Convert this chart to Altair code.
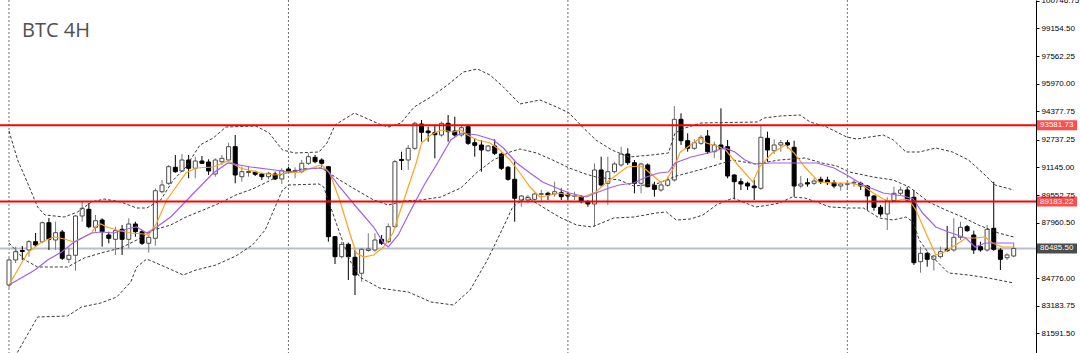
import altair as alt
import pandas as pd

TITLE = "BTC 4H"

OPEN = [84377, 85817, 86364, 86393, 86871, 86871, 87965, 86969, 87430, 85857,
        86088, 88351, 88737, 87701, 88121, 87257, 87009, 87585, 87009, 87891,
        87447, 86779, 87067, 89751, 90235, 91157, 90943, 91577, 91099, 91519,
        91462, 90771, 91479, 91577, 92343, 90615, 90857, 90886, 90771, 90615,
        90771, 90483, 91059, 90915, 90903, 91387, 91732, 91577, 91191, 87159,
        86007, 86721, 85973, 85051, 86364, 86393, 87009, 86871, 87735, 91606,
        91577, 92251, 93651, 93247, 93149, 93017, 93691, 93247, 93017, 93495,
        92573, 92441, 92113, 92383, 91923, 91157, 90465, 89273, 89273, 89313,
        89601, 89659, 89619, 89693, 89601, 89486, 89463, 89175, 89043, 91001,
        90235, 90903, 91289, 91923, 91422, 90235, 91289, 90120, 89849, 90120,
        90425, 93921, 92689, 92251, 92539, 92959, 92055, 92441, 92343, 90713,
        90327, 90235, 90079, 89947, 92827, 92113, 92441, 92573, 92309, 90079,
        90269, 90235, 90465, 90425, 90270, 90079, 90177, 90253, 90235, 90079,
        89503, 88853, 88467, 89233, 89659, 89849, 89429, 85719, 86203, 85857,
        86007, 86433, 86393, 87125, 87735, 87257, 86583, 86393, 87643, 86393,
        85949, 86047]
HIGH = [85932, 86583, 86623, 86969, 87372, 88023, 88236, 88023, 87545, 86508,
        88409, 89175, 89100, 88409, 88219, 87447, 87735, 87833, 88219, 88023,
        87545, 87257, 89947, 90425, 91289, 91865, 91923, 91865, 91767, 91807,
        91617, 91675, 91865, 92573, 93017, 91191, 91191, 90961, 90845, 90903,
        90903, 91099, 91191, 91157, 91577, 91963, 91865, 91675, 91231, 87199,
        86871, 86813, 86393, 86491, 87355, 87355, 87257, 87931, 91577, 92055,
        92441, 93783, 93881, 93495, 93593, 93783, 94169, 94071, 93593, 93593,
        92827, 92729, 92441, 92769, 92000, 91231, 91479, 89561, 89561, 89693,
        89849, 89751, 90327, 89947, 89751, 89751, 89561, 89273, 91387, 91767,
        91767, 91479, 92343, 92251, 91577, 91422, 91387, 90327, 90327, 90615,
        94687, 94267, 93115, 92769, 93017, 93305, 92631, 94555, 92729, 90753,
        90523, 90327, 90425, 93593, 93207, 92769, 92729, 92729, 92689, 90655,
        90523, 90523, 90615, 90615, 90425, 90270, 90327, 90425, 90327, 90137,
        89561, 88985, 89429, 90039, 90039, 90039, 89849, 86583, 86295, 86105,
        86583, 87775, 88219, 88023, 87833, 87505, 86871, 87833, 90327, 86491,
        86203, 86813]
LOW = [84204, 85644, 85817, 86007, 86583, 86779, 86393, 86393, 85817, 85644,
       85201, 88023, 87643, 87447, 86583, 86779, 86105, 86105, 86491, 87159,
       86681, 86237, 86641, 89659, 90137, 90845, 90903, 90523, 90523, 91347,
       90713, 90615, 91289, 91479, 90235, 90327, 90615, 90655, 90425, 90465,
       90425, 90195, 90811, 90523, 90811, 91289, 91387, 91191, 86871, 85587,
       85915, 84665, 83801, 84567, 86295, 86295, 86681, 86779, 87643, 91001,
       91001, 92153, 92631, 92631, 91675, 92919, 92631, 92919, 92919, 92441,
       91767, 90903, 92055, 91865, 91001, 90385, 88023, 88887, 89083, 89233,
       89233, 89273, 89463, 89273, 89273, 89273, 89083, 88887, 87735, 90039,
       88985, 90811, 91191, 91289, 89659, 89659, 90005, 89463, 89751, 90039,
       90327, 92441, 92055, 92153, 92441, 91923, 91675, 91577, 90523, 89313,
       89849, 89849, 89273, 89849, 91479, 91923, 92055, 92251, 89463, 89947,
       90039, 90137, 90195, 90137, 89947, 89809, 89849, 90039, 89849, 88697,
       88657, 88311, 87545, 89175, 89561, 89175, 85529, 85085, 85431, 85201,
       85915, 86295, 86295, 86969, 87447, 86163, 86295, 86295, 86353, 85241,
       85817, 85973]
CLOSE = [85817, 86295, 86307, 86871, 86681, 87965, 87009, 87389, 85915, 86088,
         88351, 88795, 87735, 88081, 87447, 87067, 87505, 87009, 87891, 87447,
         86779, 87125, 89809, 90137, 91191, 90903, 91577, 91099, 91519, 91387,
         90943, 91577, 91675, 92343, 90713, 90903, 90915, 90753, 90615, 90811,
         90483, 90961, 90943, 90973, 91387, 91767, 91479, 91387, 87159, 86007,
         86721, 86007, 84953, 86433, 86451, 86969, 86779, 87735, 91479, 91548,
         92251, 93691, 93173, 93149, 93034, 93691, 93207, 93017, 93437, 92539,
         92424, 92153, 92383, 91963, 91099, 90465, 89371, 89503, 89429, 89619,
         89636, 89561, 89751, 89463, 89503, 89521, 89175, 89043, 91001, 90137,
         90903, 91347, 91923, 91422, 90235, 91347, 90039, 89889, 90137, 90425,
         93921, 92689, 92251, 92573, 92885, 92055, 92441, 92251, 90655, 90327,
         90195, 90079, 89981, 92885, 92153, 92441, 92573, 92441, 90079, 90195,
         90195, 90367, 90327, 90270, 90079, 90195, 90212, 90293, 90079, 89503,
         88853, 88467, 89233, 89659, 89849, 89273, 85662, 86203, 85857, 86047,
         86295, 86353, 87125, 87701, 87505, 86393, 86393, 87585, 86433, 85857,
         86105, 86485.5]

UPPER_I = [0, 1.3, 2.8, 4.3, 5.4, 8.3, 10.3, 12.4, 14.3, 16.8, 19.2, 20.7, 22.8, 24.7, 26.6,
           28.7, 30.7, 32.6, 37.1, 39.1, 41.1, 43.0, 46.6, 47.8, 49.0, 51.9, 56.0, 57.1, 58.9,
           60.9, 63.4, 65.9, 68.3, 70.4, 72.3, 74.3, 76.8, 79.8, 82.3, 84.2, 86.2, 88.2, 90.6,
           93.2, 96.6, 99.1, 100.1, 101.6, 104.0, 112.5, 113.5, 115.9, 118.9, 120.4, 122.9,
           125.9, 127.4, 131.4, 132.9, 134.8, 136.8, 139.3, 141.8, 144.2, 146.7, 148.2, 151]
UPPER_P = [93247, 91577, 90252, 88870, 88409, 88294, 88582, 89157, 89330, 89157, 88812, 88812,
           89273, 90425, 91174, 92441, 92844, 93478, 93535, 93132, 92153, 91980, 92038, 92556,
           93593, 94284, 93593, 93478, 93708, 94630, 95206, 95897, 96646, 96819, 96473, 95782,
           94803, 95033, 94630, 94284, 93478, 92729, 92153, 91750, 91865, 91980, 93132, 93420,
           93708, 93766, 93996, 94111, 94169, 93766, 93478, 92902, 92787, 93017, 92729, 92038,
           92038, 92268, 92038, 91577, 90713, 90137, 89849]

MID_I = [0, 2.4, 4.3, 8.8, 11.3, 13.8, 16.8, 19.2, 21.7, 24.3, 26.6, 29.2, 31.7, 34.1, 36.6,
         38.8, 41.1, 44.0, 47.0, 49.7, 52.2, 54.8, 57.0, 59.4, 61.9, 64.9, 67.9, 70.4, 72.8,
         75.3, 76.8, 79.3, 81.7, 84.2, 86.2, 88.2, 91.7, 93.9, 97.3, 100.3, 104.3, 108.8,
         112.2, 115.8, 119.6, 122.2, 124.4, 126.3, 129.9, 132.9, 135.3, 138.2, 140.8, 143.3,
         145.7, 148.7, 151]
MID_P = [86796, 85817, 85414, 85414, 85932, 86220, 86508, 86969, 87545, 87833, 88294, 88697,
         89100, 89561, 89907, 90310, 90771, 91059, 91116, 90425, 89849, 89273, 88985, 89215,
         89273, 89446, 89964, 90886, 91577, 92038, 92211, 91980, 91577, 91116, 90828, 90598,
         90425, 90079, 90194, 90655, 91059, 91577, 91347, 91577, 91692, 91404, 91231, 90886,
         90598, 90425, 90022, 89157, 88697, 88294, 87833, 87372, 87142]

LOWER_I = [0, 1.3, 4.3, 8.8, 10.9, 13.8, 16.2, 18.3, 19.2, 20.7, 22.8, 26.2, 28.1, 31.1, 34.1,
           36.6, 38.5, 40.0, 41.1, 42.1, 46.6, 47.3, 49.7, 51.2, 52.7, 55.7, 57.7, 60.0, 63.4,
           66.8, 69.3, 71.9, 74.3, 75.7, 77.8, 80.2, 82.7, 85.3, 87.6, 90.9, 93.9, 97.3, 98.8,
           100.3, 102.4, 104.3, 106.3, 108.8, 110.7, 112.2, 114.3, 115.8, 117.7, 119.6, 121.4,
           123.4, 126.3, 128.4, 130.8, 132.9, 134.8, 135.9, 136.8, 138.2, 140.3, 141.2, 144.2,
           147.2, 151]
LOWER_P = [79769, 80518, 82534, 82592, 83110, 83340, 83686, 84549, 85414, 85874, 85529, 84953,
           85241, 85529, 86047, 86681, 87545, 88870, 89849, 90137, 90195, 90022, 87372, 85817,
           84838, 84204, 84089, 83974, 83398, 83225, 84089, 85817, 87718, 88870, 89446, 88870,
           88294, 87833, 87718, 88236, 88294, 88524, 88582, 88121, 88179, 88409, 88985, 89388,
           89100, 88870, 88985, 89100, 89446, 89388, 89157, 88870, 88812, 88812, 88236, 88121,
           88294, 88006, 86969, 86220, 85414, 85068, 84953, 84780, 84492]

FAST_I = [0, 1.9, 2.8, 4.9, 6.8, 8.3, 9.8, 11.3, 12.4, 13.1, 13.8, 14.7, 16.2, 18.3, 20.2, 21.0,
          22.2, 23.7, 25.1, 26.6, 28.1, 30.7, 32.9, 34.8, 37.8, 39.9, 41.8, 43.8, 46.3, 47.0,
          48.2, 49.7, 51.2, 52.2, 53.3, 54.8, 56.3, 57.7, 59.2, 61.2, 62.0, 63.4, 64.9, 66.8,
          67.9, 68.9, 70.4, 72.3, 73.8, 75.3, 76.8, 78.3, 79.8, 81.3, 82.7, 84.2, 86.2, 88.2,
          89.7, 91.7, 92.9, 94.9, 95.8, 97.9, 98.8, 99.9, 100.9, 101.8, 103.9, 104.8, 105.8,
          106.8, 107.7, 109.8, 111.8, 112.8, 114.7, 116.7, 118.0, 119.6, 121.7, 124.4, 126.3,
          128.4, 129.9, 131.4, 132.9, 134.4, 135.3, 136.3, 137.8, 139.3, 140.3, 142.3, 143.8,
          145.2, 146.7, 147.8, 149.3, 151]
FAST_P = [84377, 85644, 86220, 86854, 87142, 87027, 86854, 87142, 87372, 87775, 87891, 87718,
          87545, 87372, 87315, 87257, 87948, 89273, 90022, 90828, 91116, 91174, 91519, 91116,
          90828, 90713, 90828, 90886, 91231, 91289, 90828, 89273, 87372, 86220, 85990, 86105,
          86566, 87372, 89100, 91404, 92557, 93017, 93305, 93190, 93305, 93017, 92729, 92556,
          92153, 91577, 90828, 90022, 89446, 89561, 89676, 89561, 89446, 89734, 90252, 90828,
          91174, 91231, 91001, 90310, 90425, 91116, 92038, 92268, 92844, 92556, 92441, 92326,
          92153, 91174, 90310, 91174, 91980, 92441, 91980, 91174, 90310, 90252, 90252, 90079,
          89676, 89331, 89158, 89331, 89273, 88697, 87372, 86105, 86220, 86681, 87084, 87084,
          87142, 86796, 86566, 86566]

SLOW_I = [0, 3.9, 5.8, 7.9, 9.8, 12.4, 13.8, 15.8, 18.3, 19.2, 20.7, 22.2, 24.3, 27.2, 30.7,
          32.9, 36.3, 39.9, 42.3, 44.8, 46.7, 47.8, 49.7, 52.2, 54.8, 56.3, 57.0, 58.5, 60.4,
          62.4, 64.4, 66.4, 67.9, 70.4, 72.8, 74.3, 76.3, 78.3, 80.2, 82.3, 84.2, 86.8, 88.2,
          90.2, 91.7, 93.9, 95.8, 97.6, 99.1, 100.1, 102.5, 105.1, 107.6, 109.1, 110.6, 112.1,
          114.4, 118.9, 121.4, 124.0, 125.9, 128.4, 131.4, 134.4, 135.9, 137.3, 139.3, 141.2,
          143.8, 145.2, 146.7, 149.3, 151]
SLOW_P = [84377, 85241, 85817, 86278, 86854, 87372, 87430, 87372, 87660, 87718, 87372, 87718,
          88294, 89446, 90828, 91404, 91174, 91001, 90886, 91059, 91116, 91001, 90022, 88870,
          87718, 86796, 86566, 87257, 88697, 90137, 91404, 92729, 93132, 93017, 92729, 92268,
          91404, 90828, 90310, 89964, 89676, 89446, 89676, 89964, 90137, 90252, 90598, 90828,
          90886, 91404, 91750, 91980, 92268, 92038, 91577, 91347, 91404, 91404, 91404, 91116,
          90713, 90137, 89676, 89503, 89331, 88524, 87718, 87430, 87084, 86566, 86796, 86796,
          86796]

RED_LEVELS = [93581.73, 89183.22]
LAST_PRICE = 86485.50
AXIS_VALUES = [100746.75, 99154.50, 97562.25, 95970.00, 94377.75, 92737.25, 91145.00,
               89552.75, 87960.50, 84776.00, 83183.75, 81591.50]
GRID_IDX = [0, 42, 84, 126]

# ---------------------------------------------------------------------------
n = len(OPEN)
candles = pd.DataFrame({"i": list(range(n)), "open": OPEN, "high": HIGH,
                        "low": LOW, "close": CLOSE})
bull = candles[candles["close"] >= candles["open"]]
bear = candles[candles["close"] < candles["open"]]

xscale = alt.Scale(domain=[-0.6, 153.6], nice=False, zero=False)
yscale = alt.Scale(domain=[80460, 100793], nice=False, zero=False)
X = alt.X("i:Q", scale=xscale, axis=None)

yaxis = alt.Axis(orient="right", values=AXIS_VALUES, format=".2f", title=None,
                 grid=False, labelFont="Liberation Sans", labelFontSize=8,
                 labelColor="#000000", tickColor="#000000", tickSize=3,
                 domainColor="#000000", labelPadding=2, labelOverlap=False)


def Y(field):
    return alt.Y(field, scale=yscale, axis=yaxis, title=None)


grid = alt.Chart(pd.DataFrame({"i": GRID_IDX})).mark_rule(
    color="#6f6f6f", strokeDash=[2, 2], strokeWidth=1).encode(x=X)

last_line = alt.Chart(pd.DataFrame({"p": [LAST_PRICE]})).mark_rule(
    color="#b9bfc8", strokeWidth=2).encode(y=Y("p:Q"))

wick_bull = alt.Chart(bull).mark_rule(color="#777777", strokeWidth=1).encode(
    x=X, y=Y("low:Q"), y2="high:Q")
wick_bear = alt.Chart(bear).mark_rule(color="#000000", strokeWidth=1).encode(
    x=X, y=Y("low:Q"), y2="high:Q")
body_bull = alt.Chart(bull).mark_bar(size=4, fill="#ffffff", stroke="#4a4a4a",
                                     strokeWidth=1).encode(
    x=X, y=Y("open:Q"), y2="close:Q")
body_bear = alt.Chart(bear).mark_bar(size=4, fill="#000000", stroke="#000000",
                                     strokeWidth=1).encode(
    x=X, y=Y("open:Q"), y2="close:Q")


def line(ii, pp, color, dash=None, width=1.0):
    df = pd.DataFrame({"i": ii, "p": pp})
    kw = dict(color=color, strokeWidth=width, clip=True)
    if dash:
        kw["strokeDash"] = dash
    return alt.Chart(df).mark_line(**kw).encode(x=X, y=Y("p:Q"))


upper = line(UPPER_I, UPPER_P, "#3a3a3a", [3, 2])
mid = line(MID_I, MID_P, "#3a3a3a", [3, 2])
lower = line(LOWER_I, LOWER_P, "#3a3a3a", [3, 2])
fast = line(FAST_I, FAST_P, "#ffa21f", None, 1.2)
slow = line(SLOW_I, SLOW_P, "#a260e8", None, 1.2)

red = alt.Chart(pd.DataFrame({"p": RED_LEVELS})).mark_rule(
    color="#ff0000", strokeWidth=2).encode(y=Y("p:Q"))

tags_df = pd.DataFrame({
    "p": RED_LEVELS + [LAST_PRICE],
    "label": [f"{v:.2f}" for v in RED_LEVELS + [LAST_PRICE]],
    "col": ["#ff0000", "#ff0000", "#000000"],
})
tags = alt.Chart(tags_df).mark_tick(orient="horizontal", size=40, thickness=10).encode(
    x=alt.value(1057), y=Y("p:Q"), color=alt.Color("col:N", scale=None))
tag_text = alt.Chart(tags_df).mark_text(
    align="left", baseline="middle", font="Liberation Sans", fontSize=8,
    color="#ffffff").encode(x=alt.value(1040), y=Y("p:Q"), text="label:N")

title = alt.Chart(pd.DataFrame({"t": [TITLE]})).mark_text(
    align="left", baseline="alphabetic", font="Open Sans", fontSize=20,
    color="#505050").encode(x=alt.value(22), y=alt.value(37), text="t:N")

chart = alt.layer(
    grid, last_line, wick_bull, wick_bear, body_bull, body_bear,
    upper, mid, lower, fast, slow, red, tags, tag_text, title
).properties(
    width=1036, height=353,
    padding={"left": 0, "top": 0, "right": 44, "bottom": 0},
    autosize=alt.AutoSizeParams(type="none"),
    background="#ffffff",
).configure_view(stroke=None)

chart.save("out.html", embed_options={"renderer": "svg", "actions": False})
